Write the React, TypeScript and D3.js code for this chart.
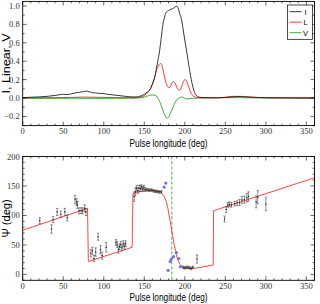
import React from "react";
import * as d3 from "d3";

// ---------- DATA ----------
const xTicks = [0, 50, 100, 150, 200, 250, 300, 350];
const topYTicks = [-0.2, 0, 0.2, 0.4, 0.6, 0.8, 1.0];
const botYTicks = [0, 50, 100, 150, 200];

// Stokes I profile [deg, value]
const profI: [number, number][] = [
  [0, 0.005], [10, 0.008], [20, 0.012], [30, 0.018], [40, 0.028], [45, 0.035], [50, 0.04], [55, 0.038],
  [60, 0.045], [65, 0.055], [70, 0.062], [75, 0.07], [78, 0.075], [82, 0.068], [85, 0.06], [90, 0.055],
  [95, 0.05], [100, 0.048], [105, 0.04], [110, 0.035], [115, 0.03], [120, 0.025], [125, 0.02], [130, 0.015],
  [135, 0.012], [140, 0.012], [145, 0.02], [150, 0.04], [154, 0.065], [157, 0.09], [160, 0.15], [163, 0.23],
  [166, 0.37], [169, 0.52], [171, 0.66], [173, 0.8], [175, 0.88], [177, 0.93], [180, 0.95], [183, 0.965],
  [186, 0.975], [189, 0.995], [190, 1.0], [192, 0.97], [194, 0.91], [196, 0.85], [198, 0.74], [200, 0.63],
  [202, 0.52], [204, 0.41], [206, 0.3], [208, 0.2], [210, 0.12], [212, 0.06], [214, 0.03], [217, 0.012],
  [220, 0.006], [230, 0.003], [240, 0.002], [250, 0.006], [260, 0.013], [265, 0.016], [270, 0.015],
  [280, 0.01], [290, 0.006], [300, 0.003], [320, 0.001], [340, 0.0], [360, 0.0],
];

// Linear polarisation
const profL: [number, number][] = [
  [0, 0.002], [20, 0.003], [40, 0.004], [60, 0.006], [75, 0.01], [90, 0.008], [110, 0.005], [130, 0.003],
  [140, 0.005], [145, 0.01], [150, 0.025], [153, 0.05], [156, 0.08], [159, 0.13], [162, 0.2], [165, 0.3],
  [168, 0.36], [170, 0.375], [172, 0.35], [174, 0.27], [176, 0.19], [178, 0.14], [180, 0.115], [182, 0.12],
  [184, 0.16], [186, 0.18], [188, 0.16], [190, 0.12], [192, 0.09], [194, 0.087], [196, 0.12], [198, 0.17],
  [200, 0.2], [202, 0.19], [204, 0.14], [206, 0.09], [208, 0.05], [210, 0.025], [213, 0.01], [220, 0.003],
  [240, 0.003], [250, 0.008], [260, 0.018], [270, 0.018], [280, 0.01], [300, 0.004], [330, 0.002], [360, 0.002],
];

// Circular polarisation
const profV: [number, number][] = [
  [0, -0.003], [30, -0.004], [60, -0.002], [90, -0.004], [120, -0.003], [140, -0.002], [150, 0.01],
  [155, 0.025], [160, 0.033], [163, 0.03], [166, 0.01], [168, -0.02], [170, -0.06], [172, -0.11],
  [174, -0.16], [176, -0.2], [178, -0.22], [180, -0.21], [182, -0.17], [184, -0.13], [186, -0.09],
  [188, -0.05], [190, -0.02], [193, 0.0], [196, 0.012], [199, 0.002], [202, -0.01], [205, -0.008],
  [210, -0.003], [220, 0.0], [260, 0.004], [300, 0.0], [360, 0.0],
];

// Position angle measurements [deg, psi, err]
const paPoints: [number, number, number][] = [
  [21, 91, 5], [35.5, 77, 7], [37.5, 93, 5], [42.5, 106, 6], [47, 102, 5], [52, 106, 6], [55, 96, 5],
  [64.5, 127, 7], [66.5, 123, 6], [67.5, 118, 6], [69.5, 108, 5], [72, 108, 5], [74, 108, 5], [76.5, 112, 6],
  [78, 106, 6],
  [84, 36, 6], [86, 40, 6], [88, 27, 5], [90, 38, 7], [93, 64, 6], [96, 42, 7], [98, 32, 6], [103, 46, 8],
  [115, 54, 5], [116.5, 51, 5], [118, 42, 6], [119.5, 47, 5], [121, 51, 5], [122.5, 45, 5], [124, 52, 5],
  [125.5, 48, 5], [127, 52, 5],
  [137.5, 132, 8], [139, 140, 7], [140.5, 146, 5], [142, 142, 5], [143.5, 146, 5], [145, 146, 5],
  [146.5, 148, 4], [148, 145, 4], [149.5, 147, 4], [151, 144, 3], [153, 144, 2], [155, 143, 2], [157, 143, 2],
  [159, 143, 2], [161, 142, 2], [163, 141, 2], [165, 141, 2], [167, 140, 2], [169, 140, 2], [171, 140, 2],
  [198, 12, 2], [200, 11, 2], [202, 12, 2], [204, 12, 2], [206, 11, 2], [208, 10, 2], [210, 12, 2], [215, 26, 7],
  [249, 94, 5], [251, 110, 5], [253, 118, 4], [255, 119, 4], [257.5, 118, 4], [261.5, 120, 4], [264.5, 121, 4],
  [267.5, 122, 5], [270.5, 126, 6], [273.5, 127, 6], [276.5, 130, 7], [278.5, 132, 8], [288, 123, 10],
  [290, 131, 11], [300, 119, 11],
];

// Other-mode points (blue)
const bluePoints: [number, number][] = [
  [174.5, 148], [176.5, 155], [179.5, 7], [182, 22], [183.5, 26], [186, 30], [189.5, 37], [192.5, 27], [194.5, 13],
];

// RVM fit curve [deg, psi]
const fitCurve: [number, number][] = [
  [0, 75], [80, 112], [81, 22], [135, 46], [136, 137], [140, 139], [150, 141.5], [160, 142.5], [165, 142],
  [170, 140], [174, 134], [177, 124], [179, 113], [181, 97], [183, 82], [185, 66], [187, 50], [189, 36],
  [191, 26], [194, 17], [198, 12], [203, 10.5], [210, 10], [220, 12], [235, 16], [235.5, 108], [360, 164],
];

const markerLongitude = [184];

// ---------- LAYOUT ----------
const W = 320, H = 304;
const L = 22.7, R = 314.5;
const topBox = { top: 1.4, bottom: 125.6 };
const botBox = { top: 156.5, bottom: 280.3 };

const x = d3.scaleLinear().domain([0, 360]).range([L, R]);
const yTop = d3.scaleLinear().domain([-0.3, 1.05]).range([topBox.bottom, topBox.top]);
const yBot = d3.scaleLinear().domain([-10, 200]).range([botBox.bottom, botBox.top]);

const serif = "'Liberation Serif', 'DejaVu Serif', serif";
const sans = "'Liberation Sans', Arial, sans-serif";

function fmtTop(v: number) {
  const s = Math.abs(v).toFixed(1);
  return v < -1e-9 ? "\u2212" + s : s;
}

function Frame({ y, top, bottom, yMajor, yMinor }: any) {
  const xMinor = d3.range(0, 361, 10);
  const xMaj = xTicks;
  const lines: JSX.Element[] = [];
  xMinor.forEach((v, i) => {
    const len = xMaj.includes(v) ? 4 : 2;
    lines.push(<line key={"xb" + i} x1={x(v)} x2={x(v)} y1={bottom} y2={bottom - len} stroke="#000" strokeWidth={0.6} />);
    lines.push(<line key={"xt" + i} x1={x(v)} x2={x(v)} y1={top} y2={top + len} stroke="#000" strokeWidth={0.6} />);
  });
  yMinor.forEach((v: number, i: number) => {
    const len = yMajor.some((m: number) => Math.abs(m - v) < 1e-6) ? 4 : 2;
    lines.push(<line key={"yl" + i} x1={L} x2={L + len} y1={y(v)} y2={y(v)} stroke="#000" strokeWidth={0.6} />);
    lines.push(<line key={"yr" + i} x1={R} x2={R - len} y1={y(v)} y2={y(v)} stroke="#000" strokeWidth={0.6} />);
  });
  return (
    <g>
      {lines}
      <rect x={L} y={top} width={R - L} height={bottom - top} fill="none" stroke="#000" strokeWidth={0.9} />
    </g>
  );
}

export default function App() {
  const lineTop = d3.line<[number, number]>().x(d => x(d[0])).y(d => yTop(d[1])).curve(d3.curveMonotoneX);
  const lineFit = d3.line<[number, number]>().x(d => x(d[0])).y(d => yBot(d[1]));

  const topMinor = d3.range(-3, 11).map(v => v / 10);
  const botMinor = d3.range(-10, 201, 10);

  return (
    <svg width={W} height={H} style={{ position: "absolute", left: 0, top: 0, background: "#fff" }}>
      <rect x={0} y={0} width={W} height={H} fill="#fff" />
      {/* ---------- TOP PANEL ---------- */}
      <defs>
        <clipPath id="clipTop"><rect x={L} y={topBox.top} width={R - L} height={topBox.bottom - topBox.top} /></clipPath>
        <clipPath id="clipBot"><rect x={L} y={botBox.top} width={R - L} height={botBox.bottom - botBox.top} /></clipPath>
      </defs>
      <g clipPath="url(#clipTop)">
        <path d={lineTop(profV) || ""} fill="none" stroke="#2ca02c" strokeWidth={0.9} />
        <path d={lineTop(profL) || ""} fill="none" stroke="#ff2020" strokeWidth={0.9} />
        <path d={lineTop(profI) || ""} fill="none" stroke="#222" strokeWidth={0.9} />
      </g>
      <Frame y={yTop} top={topBox.top} bottom={topBox.bottom} yMajor={topYTicks} yMinor={topMinor} />
      {topYTicks.map(v => (
        <text key={"ty" + v} x={L - 3} y={yTop(v) + 3} textAnchor="end" fontFamily={serif} fontSize={8.5} fill="#333">{fmtTop(v)}</text>
      ))}
      {xTicks.map(v => (
        <text key={"tx" + v} x={x(v)} y={134} textAnchor="middle" fontFamily={serif} fontSize={8.5} fill="#333">{v}</text>
      ))}
      <text x={168.6} y={146.5} textAnchor="middle" fontFamily={sans} fontSize={11} textLength={78} lengthAdjust="spacingAndGlyphs" fill="#000">Pulse longitude (deg)</text>
      <text transform={`translate(9.5,${(topBox.top + topBox.bottom) / 2}) rotate(-90)`} textAnchor="middle" fontFamily={sans} fontSize={11} textLength={60} lengthAdjust="spacingAndGlyphs" fill="#000">I, Linear, V</text>

      {/* legend */}
      <g>
        <rect x={287.5} y={5} width={25} height={34.3} fill="#fff" stroke="#000" strokeWidth={0.7} />
        {[["I", "#222"], ["L", "#ff2020"], ["V", "#2ca02c"]].map(([lab, col], i) => (
          <g key={lab}>
            <line x1={289.5} x2={301.5} y1={11.7 + i * 10.5} y2={11.7 + i * 10.5} stroke={col} strokeWidth={0.9} />
            <text x={305.5} y={14.5 + i * 10.5} fontFamily={sans} fontSize={7.5} textAnchor="middle" fill="#000">{lab}</text>
          </g>
        ))}
      </g>

      {/* ---------- BOTTOM PANEL ---------- */}
      <g clipPath="url(#clipBot)">
        {markerLongitude.map(m => (
          <line key={"m" + m} x1={x(m)} x2={x(m)} y1={botBox.top} y2={botBox.bottom} stroke="#33aa33" strokeWidth={0.9} strokeDasharray="3,2" />
        ))}
        <path d={lineFit(fitCurve) || ""} fill="none" stroke="#ff3030" strokeWidth={0.9} />
        {paPoints.map((p, i) => {
          const cx = x(p[0]);
          const y1 = yBot(p[1] - p[2]);
          const y2 = yBot(p[1] + p[2]);
          return (
            <g key={"pa" + i} stroke="#444" strokeWidth={0.6}>
              <line x1={cx} x2={cx} y1={y1} y2={y2} />
              <line x1={cx - 1.2} x2={cx + 1.2} y1={y1} y2={y1} />
              <line x1={cx - 1.2} x2={cx + 1.2} y1={y2} y2={y2} />
              <circle cx={cx} cy={yBot(p[1])} r={0.8} fill="#333" stroke="none" />
            </g>
          );
        })}
        {bluePoints.map((p, i) => (
          <circle key={"b" + i} cx={x(p[0])} cy={yBot(p[1])} r={1.6} fill="#7070f0" />
        ))}
      </g>
      <Frame y={yBot} top={botBox.top} bottom={botBox.bottom} yMajor={botYTicks} yMinor={botMinor} />
      {botYTicks.map(v => (
        <text key={"by" + v} x={L - 3} y={yBot(v) + 3} textAnchor="end" fontFamily={serif} fontSize={8.5} fill="#333">{v}</text>
      ))}
      {xTicks.map(v => (
        <text key={"bx" + v} x={x(v)} y={289} textAnchor="middle" fontFamily={serif} fontSize={8.5} fill="#333">{v}</text>
      ))}
      <text x={168.6} y={300.5} textAnchor="middle" fontFamily={sans} fontSize={11} textLength={78} lengthAdjust="spacingAndGlyphs" fill="#000">Pulse longitude (deg)</text>
      <text transform={`translate(9.5,${(botBox.top + botBox.bottom) / 2}) rotate(-90)`} textAnchor="middle" fontFamily={sans} fontSize={11} textLength={38} lengthAdjust="spacingAndGlyphs" fill="#000">Ψ (deg)</text>
    </svg>
  );
}
